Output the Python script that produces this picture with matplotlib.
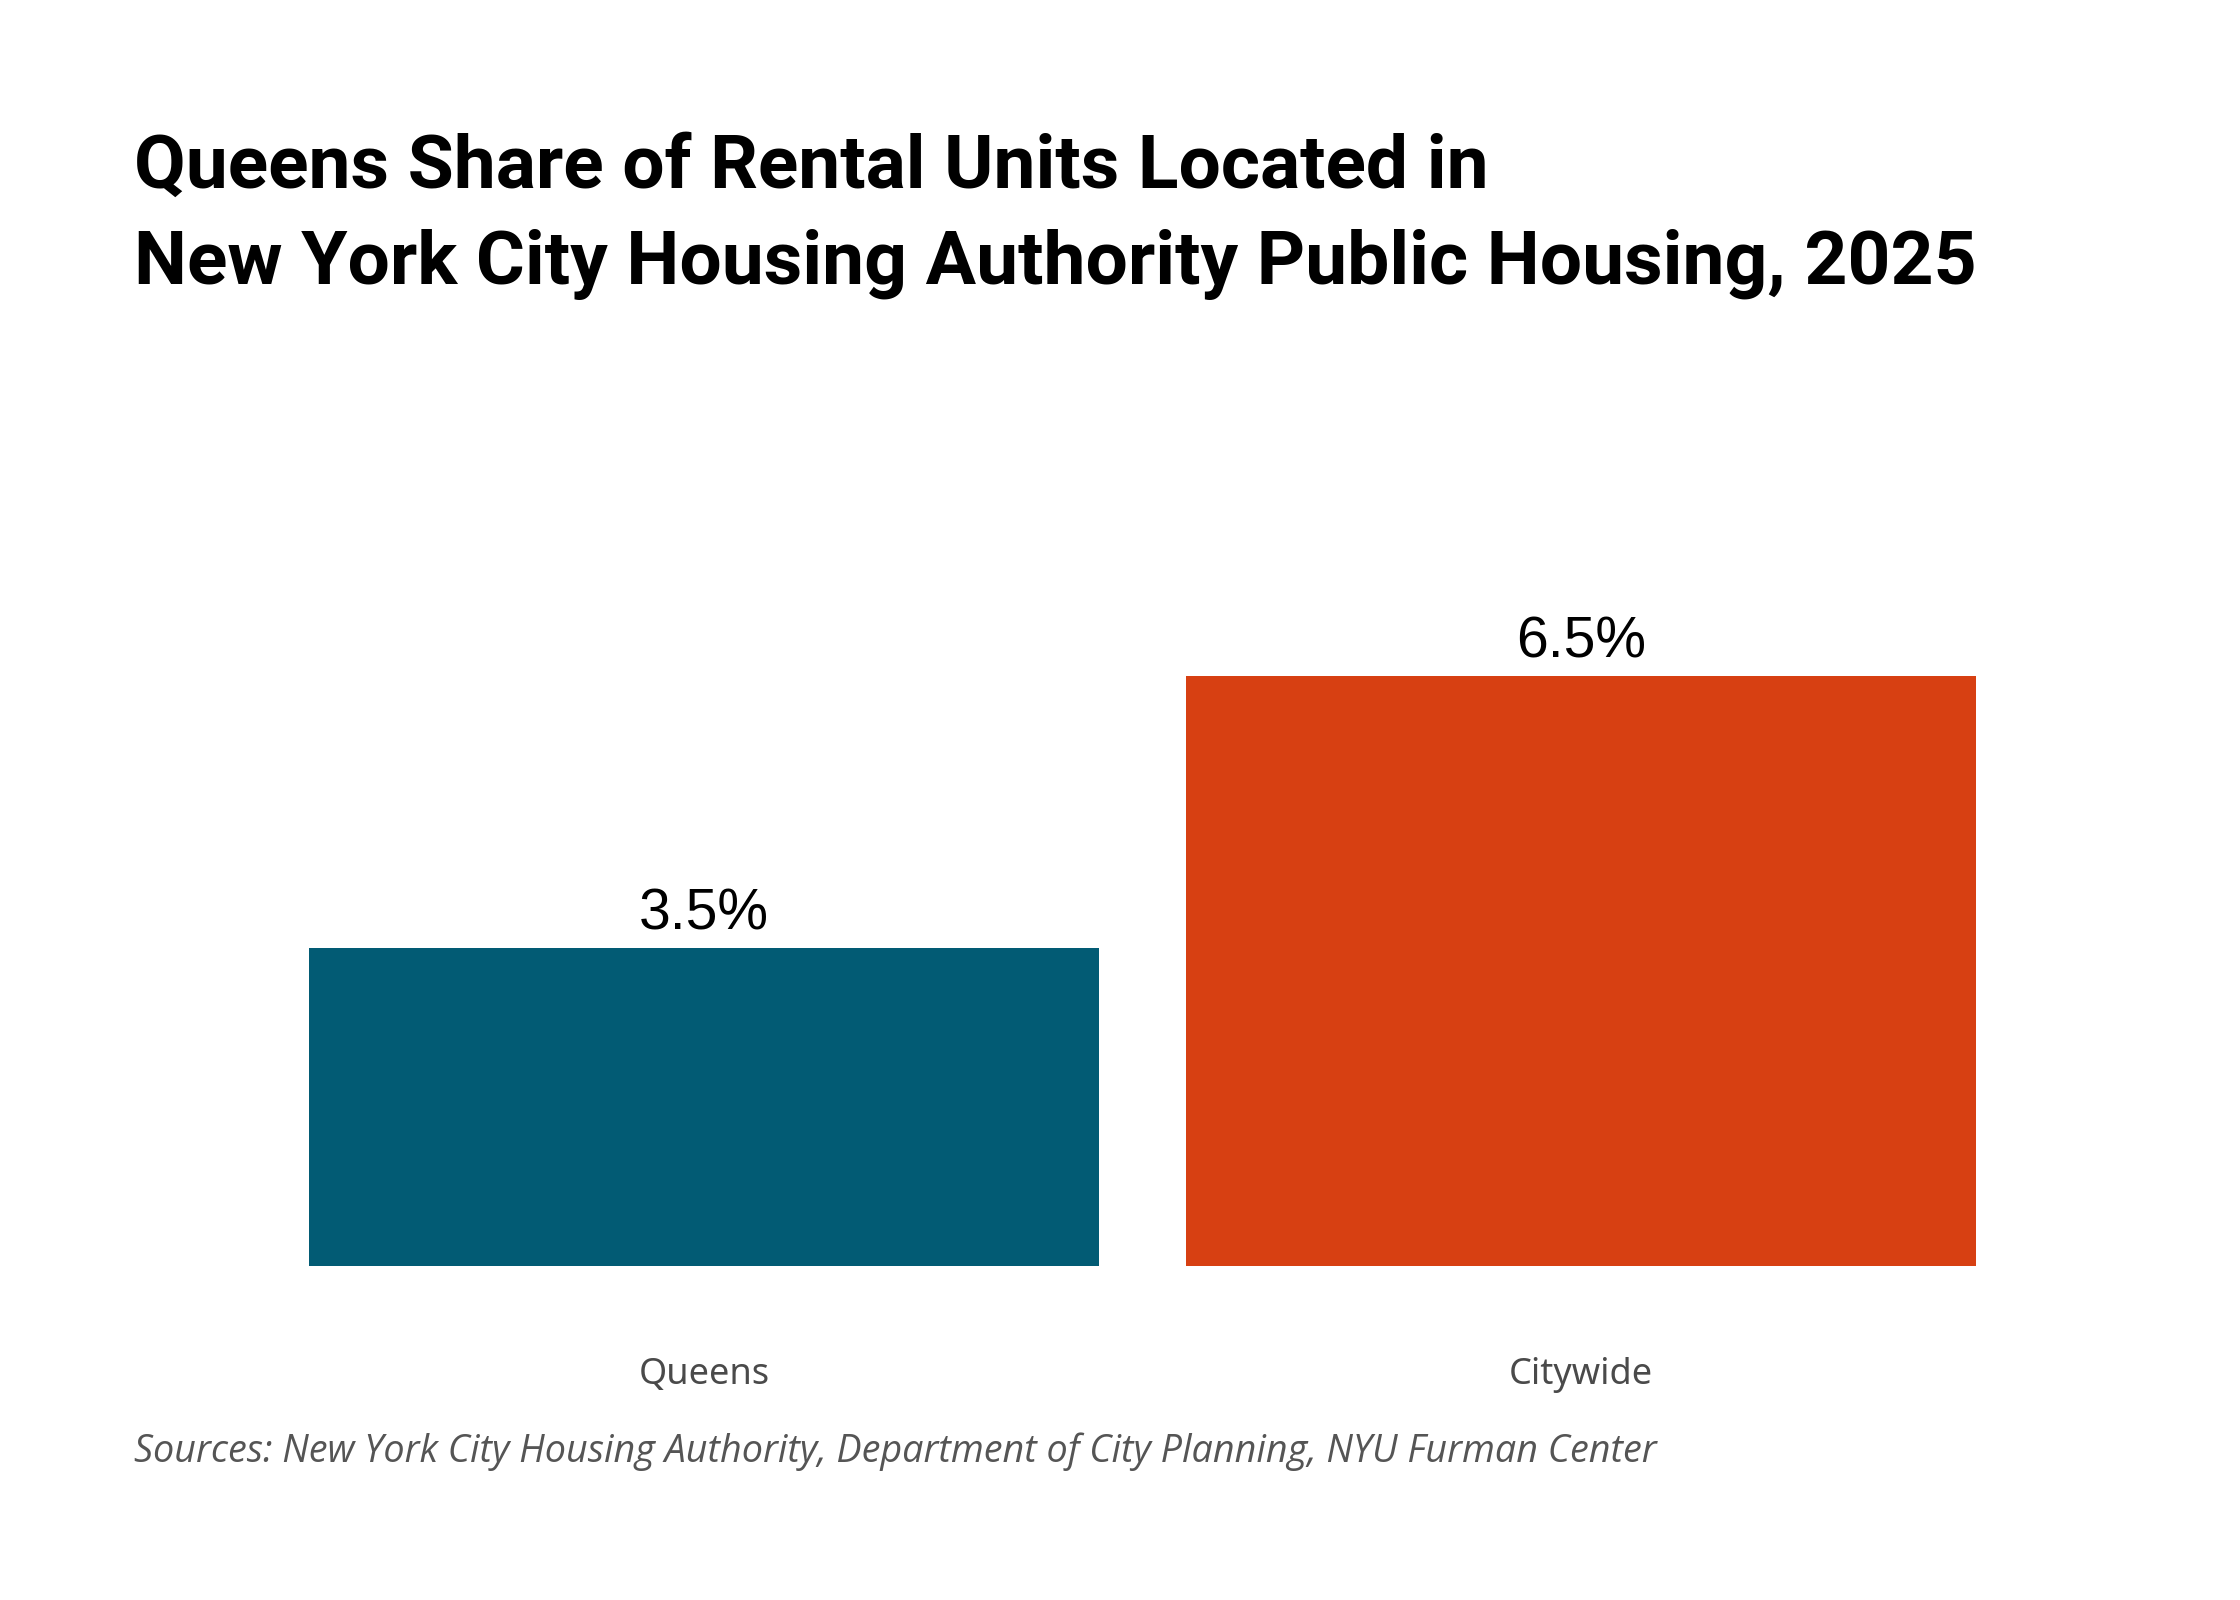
import matplotlib
matplotlib.use("Agg")
import matplotlib.pyplot as plt
import matplotlib.transforms as mtransforms

categories = ["Queens", "Citywide"]
values = [3.5, 6.5]
value_labels = ["3.5%", "6.5%"]
colors = ["#025B74", "#D74012"]
title_lines = ["Queens Share of Rental Units Located in",
               "New York City Housing Authority Public Housing, 2025"]
source = "Sources: New York City Housing Authority, Department of City Planning, NYU Furman Center"

W, H, DPI = 2240, 1600, 200
fig = plt.figure(figsize=(W / DPI, H / DPI), dpi=DPI)
fig.patch.set_facecolor("white")

# axes placed in pixel geometry
left, right, bottom = 309, 1976, 1266
px_per_unit = 590 / 6.5
ymax = 7.0
ax = fig.add_axes([left / W, 1 - bottom / H, (right - left) / W, ymax * px_per_unit / H])
x = list(range(len(categories)))
ax.bar(x, values, width=0.9, color=colors)
ax.set_xlim(-0.45, 1.45)
ax.set_ylim(0, ymax)
ax.axis("off")

for xi, v, lab in zip(x, values, value_labels):
    ax.annotate(lab, (xi, v), xytext=(0, 19 * 72 / DPI), textcoords="offset points",
                ha="center", va="baseline", fontsize=20.5, family="Liberation Sans",
                color="black")

trans = mtransforms.blended_transform_factory(ax.transData, fig.transFigure)
for xi, c in zip(x, categories):
    ax.text(xi, 1 - 1384 / H, c, transform=trans, ha="center", va="baseline",
            fontsize=13, family="Noto Sans", color="#4a4a4a")

fig.text(134 / W, 1 - 188 / H, title_lines[0], ha="left", va="baseline",
         fontsize=27, fontweight="bold", family="Roboto", color="black")
fig.text(134 / W, 1 - 284 / H, title_lines[1], ha="left", va="baseline",
         fontsize=27, fontweight="bold", family="Roboto", color="black")

fig.text(134 / W, 1 - 1462 / H, source, ha="left", va="baseline",
         fontsize=13.6, style="italic", family="Open Sans", color="#555555")

fig.savefig("out.png", dpi=DPI, facecolor="white")
